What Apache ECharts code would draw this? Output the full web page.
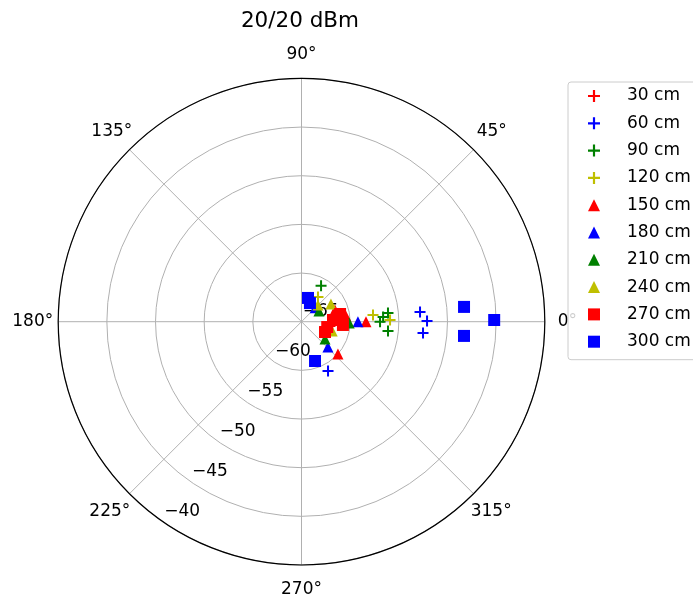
<!DOCTYPE html>
<html>
<head>
<meta charset="utf-8">
<script src="https://cdn.jsdelivr.net/npm/echarts@6/dist/echarts.min.js"></script>
<style>
  html, body { margin: 0; padding: 0; background: #fff; }
  #chart { width: 693px; height: 606px; }
</style>
</head>
<body>
<div id="chart"></div>
<script>
// [radius (dBm), angle (deg)]
const seriesNames = ['30 cm', '60 cm', '90 cm', '120 cm', '150 cm', '180 cm', '210 cm', '240 cm', '270 cm', '300 cm']
const d30 = [[-61.56, 2.9], [-61.2, 8.9], [-62.04, 351.4]]
const d60 = [[-52.78, 4.7], [-52.1, 0.3], [-52.46, 354.7], [-59.25, 298.3]]
const d90 = [[-56.93, 0], [-56.6, 3.3], [-56.07, 5.7], [-56.06, 353.9], [-60.8, 61.4]]
const d120 = [[-57.62, 5.4], [-55.9, 1.1], [-61.95, 56.3]]
const d150 = [[-60.0, 318.5], [-58.37, 0], [-60.4, 7.3], [-61.35, 19.3]]
const d180 = [[-61.24, 316.3], [-59.2, 0], [-63.0, 45.4]]
const d210 = [[-62.0, 323.6], [-60.1, 358.4], [-62.9, 31.4]]
const d240 = [[-61.47, 31], [-62.6, 45.3], [-61.7, 343], [-60.8, 355.3]]
const d270 = [[-60.96, 11.3], [-61.76, 3.1], [-62.3, 348.3], [-62.36, 336.3], [-60.73, 355.5]]
const d300 = [[-45.2, 0.5], [-48.23, 5.2], [-48.24, 355], [-62.47, 74.7], [-62.9, 65.6], [-60.73, 289]]
const radiusTicks = [-65, -40, 5] // min, max, step
const angleTicks = [0, 360, 45]

const plus = 'path://M4.5,0H6.5V4.5H11V6.5H6.5V11H4.5V6.5H0V4.5H4.5Z'
const font = 'DejaVu Sans'
const fs = 17

const styles = [
  { data: d30, symbol: plus, color: '#ff0000', size: 11 },
  { data: d60, symbol: plus, color: '#0000ff', size: 11 },
  { data: d90, symbol: plus, color: '#008000', size: 11 },
  { data: d120, symbol: plus, color: '#bfbf00', size: 11 },
  { data: d150, symbol: 'triangle', color: '#ff0000', size: 11 },
  { data: d180, symbol: 'triangle', color: '#0000ff', size: 11 },
  { data: d210, symbol: 'triangle', color: '#008000', size: 11 },
  { data: d240, symbol: 'triangle', color: '#bfbf00', size: 11 },
  { data: d270, symbol: 'rect', color: '#ff0000', size: 12 },
  { data: d300, symbol: 'rect', color: '#0000ff', size: 12 }
]

// push each angle label out so its centre sits on the same circle (like matplotlib)
function tok(pad) {
  return { padding: pad, fontFamily: font, fontSize: fs, color: '#000' }
}
const angleRich = {
  a0: tok([0, 0, 0, 17]),
  a45: tok([0, 0, 12, 6]),
  a90: tok([0, 0, 19, 0]),
  a135: tok([0, 0, 12, 0]),
  a180: tok([0, 9, 0, 0]),
  a225: tok([12, 2, 0, 0]),
  a270: tok([20, 0, 0, 0]),
  a315: tok([12, 0, 0, 0])
}

const center = [301.5, 321.7]
const R = 243.3

const chart = echarts.init(document.getElementById('chart'))
chart.setOption({
  animation: false,
  title: {
    text: '20/20 dBm',
    left: 295,
    top: 5,
    textAlign: 'center',
    textStyle: { fontFamily: font, fontSize: 21.5, fontWeight: 'normal', color: '#000' }
  },
  legend: {
    orient: 'vertical',
    left: 568,
    top: 82,
    padding: [5, 30, 9, 20],
    itemWidth: 12,
    itemHeight: 12,
    itemGap: 9.3,
    backgroundColor: 'rgba(255,255,255,0.8)',
    borderColor: '#cccccc',
    borderWidth: 1,
    borderRadius: 3,
    textStyle: { fontFamily: font, fontSize: fs, color: '#000', lineHeight: 18, padding: [0, 0, 0, 22] },
    data: seriesNames
  },
  polar: [
    { center: center, radius: R },
    // second polar only carries the radius labels, shifted like matplotlib's
    { center: [center[0] + 19.2, center[1] - 9.7], radius: R }
  ],
  angleAxis: [{
    polarIndex: 0,
    type: 'value',
    min: angleTicks[0],
    max: angleTicks[1],
    interval: angleTicks[2],
    startAngle: 0,
    clockwise: false,
    axisLine: { lineStyle: { color: '#000', width: 1.2 } },
    axisTick: { show: false },
    axisLabel: {
      margin: -4,
      fontFamily: font,
      fontSize: fs,
      color: '#000',
      rich: angleRich,
      formatter: function(v) {
        return v === 360 ? '' : '{a' + v + '|' + v + '°}'
      }
    },
    splitLine: { lineStyle: { color: '#b0b0b0', width: 1 } }
  }, {
    polarIndex: 1,
    type: 'value',
    min: 0,
    max: 360,
    startAngle: 235.3,
    show: false
  }],
  radiusAxis: [{
    polarIndex: 0,
    type: 'value',
    min: radiusTicks[0],
    max: radiusTicks[1],
    interval: radiusTicks[2],
    axisLine: { show: false },
    axisTick: { show: false },
    axisLabel: { show: false },
    splitLine: { lineStyle: { color: '#b0b0b0', width: 1 } }
  }, {
    polarIndex: 1,
    type: 'value',
    min: radiusTicks[0],
    max: radiusTicks[1],
    interval: radiusTicks[2],
    axisLine: { show: false },
    axisTick: { show: false },
    splitLine: { show: false },
    axisLabel: {
      margin: 0,
      align: 'center',
      verticalAlign: 'middle',
      fontFamily: font,
      fontSize: fs,
      color: '#000',
      formatter: function(v) {
        return String(v).replace('-', '\u2212')
      }
    }
  }],
  series: styles.map(function(s, i) {
    return {
      name: seriesNames[i],
      type: 'scatter',
      coordinateSystem: 'polar',
      polarIndex: 0,
      symbol: s.symbol,
      symbolSize: s.size,
      itemStyle: { color: s.color, opacity: 1 },
      data: s.data
    }
  })
})
</script>
</body>
</html>
